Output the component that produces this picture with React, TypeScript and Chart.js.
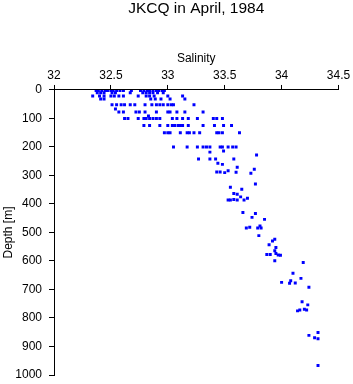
import { useEffect, useRef } from "react";
import { Chart, registerables } from "chart.js";

Chart.register(...registerables);

const TITLE = "JKCQ in April, 1984";
const X_LABEL = "Salinity";
const Y_LABEL = "Depth [m]";
const X_MIN = 32;
const X_MAX = 34.5;
const X_STEP = 0.5;
const Y_MIN = 0;
const Y_MAX = 1000;
const Y_STEP = 100;

// Upper layer: sampling depth (m) and the salinities observed at it
const upperDepths = [2, 10, 21, 32, 52, 67, 77, 91, 100, 125, 150, 200];
const upperSalinity = [
  [32.37, 32.39, 32.42, 32.45, 32.47, 32.5, 32.52, 32.55, 32.58, 32.61, 32.68, 32.76, 32.79, 32.82, 32.84, 32.87, 32.9, 32.92, 32.95, 32.97],
  [32.38, 32.41, 32.44, 32.51, 32.54, 32.67, 32.78, 32.81, 32.84, 32.87, 32.91, 32.96],
  [32.34, 32.4, 32.44, 32.5, 32.53, 32.57, 32.61, 32.74, 32.81, 32.84, 32.88, 33.0, 33.13],
  [32.41, 32.44, 32.85, 32.89, 32.94, 33.02, 33.15],
  [32.51, 32.55, 32.59, 32.62, 32.67, 32.71, 32.8, 32.86, 32.9, 32.93, 32.96, 33.0, 33.03, 33.05, 33.23],
  [32.54],
  [32.57, 32.61, 32.72, 32.75, 32.8, 32.9, 33.0, 33.02, 33.08, 33.15, 33.31],
  [32.83],
  [32.62, 32.65, 32.74, 32.79, 32.81, 32.84, 32.87, 32.9, 32.93, 33.04, 33.08, 33.13, 33.18, 33.26, 33.4, 33.43, 33.48],
  [32.79, 32.84, 32.93, 33.0, 33.04, 33.06, 33.09, 33.11, 33.13, 33.18, 33.31, 33.41, 33.49, 33.56],
  [32.97, 33.0, 33.02, 33.11, 33.17, 33.19, 33.23, 33.28, 33.43, 33.45, 33.48, 33.63],
  [33.05, 33.17, 33.26, 33.31, 33.34, 33.37, 33.46, 33.48, 33.53, 33.57, 33.6],
];

// Deeper observations: salinity and depth (m), paired by index
const deepSalinity = [
  33.49, 33.37, 33.78, 33.27, 33.37, 33.42, 33.58, 33.44, 33.48, 33.61,
  33.43, 33.46, 33.5, 33.53, 33.6, 33.73, 33.76, 33.77, 33.55, 33.65,
  33.58, 33.61, 33.64, 33.53, 33.55, 33.58, 33.61, 33.67, 33.7, 33.66,
  33.77, 33.74, 33.85, 33.69, 33.72, 33.79, 33.81, 33.82, 33.8, 33.94,
  33.92, 33.89, 33.95, 33.94, 33.87, 33.9, 33.95, 33.97, 33.99, 33.94,
  34.19, 34.1, 34.17, 34.0, 34.08, 34.07, 34.12, 34.24, 34.18, 34.23,
  34.16, 34.14, 34.2, 34.22, 34.32, 34.24, 34.29, 34.32, 34.32,
];
const deepDepth = [
  214, 218, 228, 242, 242, 242, 242, 257, 261, 271,
  288, 288, 290, 283, 289, 292, 278, 330, 341, 348,
  363, 366, 375, 386, 386, 384, 386, 386, 380, 430,
  433, 447, 454, 484, 482, 484, 477, 484, 511, 524,
  530, 543, 553, 564, 577, 577, 574, 579, 580, 599,
  605, 643, 661, 675, 669, 678, 677, 692, 743, 754,
  772, 775, 769, 772, 851, 861, 869, 873, 967,
];

const FONT = "'Liberation Sans', Arial, Helvetica, sans-serif";

export default function App() {
  const ref = useRef<HTMLCanvasElement | null>(null);

  useEffect(() => {
    if (!ref.current) return;
    const points: { x: number; y: number }[] = [];
    upperDepths.forEach((d, i) => {
      upperSalinity[i].forEach((s) => points.push({ x: s, y: d }));
    });
    deepSalinity.forEach((s, i) => points.push({ x: s, y: deepDepth[i] }));

    const chart = new Chart(ref.current, {
      type: "scatter",
      data: {
        datasets: [
          {
            data: points,
            pointStyle: "rect",
            pointRadius: 2.1,
            pointBorderWidth: 0,
            backgroundColor: "#0000ff",
            borderColor: "#0000ff",
          },
        ],
      },
      options: {
        animation: false,
        responsive: false,
        layout: { padding: { left: 0, right: 14.5, top: 0, bottom: 9 } },
        plugins: {
          legend: { display: false },
          tooltip: { enabled: false },
          title: {
            display: true,
            fullSize: false,
            text: TITLE,
            color: "#000",
            font: { family: FONT, size: 15.5, weight: "normal", lineHeight: 1.16 },
            padding: { top: 0, bottom: 0 },
          },
        },
        scales: {
          x: {
            type: "linear",
            position: "top",
            min: X_MIN,
            max: X_MAX,
            ticks: {
              stepSize: X_STEP,
              color: "#000",
              font: { family: FONT, size: 12 },
              padding: 2,
              maxRotation: 0,
              callback: (v: any) => String(v),
            },
            grid: {
              drawOnChartArea: false,
              drawTicks: true,
              tickLength: 5,
              color: "#000",
              lineWidth: 1,
            },
            border: { display: true, color: "#000", width: 1 },
            title: {
              display: true,
              text: X_LABEL,
              color: "#000",
              font: { family: FONT, size: 12, lineHeight: 1.2 },
              padding: { top: 34, bottom: 0 },
            },
            afterFit: (s: any) => {
              s.height = 72;
            },
          },
          y: {
            type: "linear",
            position: "left",
            reverse: true,
            min: Y_MIN,
            max: Y_MAX,
            ticks: {
              stepSize: Y_STEP,
              color: "#000",
              font: { family: FONT, size: 12 },
              padding: 7,
              callback: (v: any) => String(v),
            },
            grid: {
              drawOnChartArea: false,
              drawTicks: true,
              tickLength: 5,
              color: "#000",
              lineWidth: 1,
            },
            border: { display: true, color: "#000", width: 1 },
            title: {
              display: true,
              text: Y_LABEL,
              color: "#000",
              font: { family: FONT, size: 12, lineHeight: 1.2 },
              padding: { top: 1, bottom: 0 },
            },
            afterFit: (s: any) => {
              s.width = 54;
              s.paddingTop = 0;
              s.paddingBottom = 0;
            },
          },
        },
      },
    });
    return () => chart.destroy();
  }, []);

  return (
    <div style={{ position: "fixed", left: 0, top: 0, width: 353, height: 384, background: "#fff" }}>
      <canvas ref={ref} width={353} height={384} style={{ display: "block", width: 353, height: 384 }} />
    </div>
  );
}
